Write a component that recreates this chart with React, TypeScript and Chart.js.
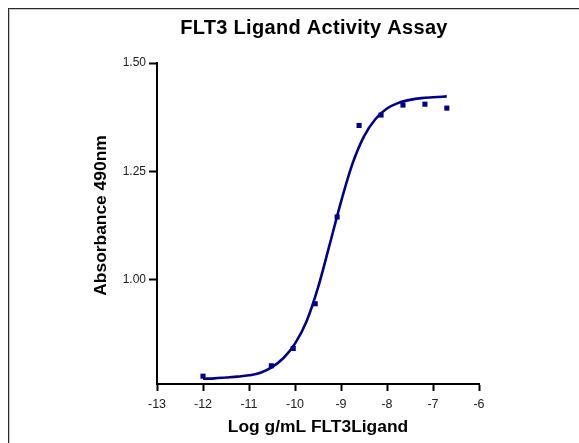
import React, { useEffect, useRef } from "react";
import { Chart, registerables } from "chart.js";

Chart.register(...registerables);

const chartTitle = "FLT3 Ligand Activity Assay";
const xAxisTitle = "Log g/mL FLT3Ligand";
const yAxisTitle = "Absorbance 490nm";

// measured points (log g/mL, absorbance)
const pointLogConc = [-12.0, -10.515, -10.038, -9.561, -9.084, -8.607, -8.13, -7.653, -7.176, -6.699];
const pointAbs = [0.778, 0.802, 0.842, 0.945, 1.145, 1.356, 1.38, 1.403, 1.405, 1.396];

// fitted curve
const curveLogConc = [-12.0, -11.75, -11.5, -11.25, -11.0, -10.75, -10.5, -10.25, -10.0, -9.75, -9.5, -9.25, -9.0, -8.75, -8.5, -8.25, -8.0, -7.75, -7.5, -7.25, -7.0, -6.7];
const curveAbs = [0.772, 0.773, 0.775, 0.777, 0.78, 0.786, 0.799, 0.82, 0.853, 0.904, 0.982, 1.08, 1.18, 1.268, 1.331, 1.371, 1.395, 1.408, 1.415, 1.419, 1.421, 1.423];

const xTickValues = [-13, -12, -11, -10, -9, -8, -7, -6];
const yTickValues = [1.0, 1.25, 1.5];

const NAVY = "#00008b";
const FONT = "Arial, 'Liberation Sans', sans-serif";

export default function App() {
  const ref = useRef<HTMLCanvasElement>(null);

  useEffect(() => {
    if (!ref.current) return;
    const textPlugin = {
      id: "customTitles",
      afterDraw(chart: any) {
        const { ctx, chartArea } = chart;
        // chart title
        ctx.save();
        ctx.font = `bold 20px ${FONT}`;
        try {
          (ctx as any).letterSpacing = "0.3px";
        } catch (e) {}
        ctx.fillStyle = "#000";
        ctx.textAlign = "center";
        ctx.textBaseline = "alphabetic";
        ctx.fillText(chartTitle, (chartArea.left + chartArea.right) / 2 - 4, 25);
        ctx.restore();
        // y axis title
        ctx.save();
        ctx.font = `bold 17.4px ${FONT}`;
        ctx.fillStyle = "#000";
        ctx.textAlign = "center";
        ctx.textBaseline = "middle";
        ctx.translate(chartArea.left - 56, (chartArea.top + chartArea.bottom) / 2 - 8);
        ctx.rotate(-Math.PI / 2);
        ctx.fillText(yAxisTitle, 0, 0);
        ctx.restore();
      },
    };

    const chart = new Chart(ref.current, {
      type: "scatter",
      data: {
        datasets: [
          {
            label: "fit",
            data: curveLogConc.map((x, i) => ({ x, y: curveAbs[i] })),
            showLine: true,
            borderColor: NAVY,
            borderWidth: 2.6,
            pointRadius: 0,
            cubicInterpolationMode: "monotone",
            fill: false,
            order: 2,
          },
          {
            label: "data",
            data: pointLogConc.map((x, i) => ({ x, y: pointAbs[i] })),
            pointStyle: "rect",
            pointRadius: 3.6,
            backgroundColor: NAVY,
            borderColor: NAVY,
            borderWidth: 0,
            order: 1,
          },
        ],
      },
      options: {
        responsive: false,
        animation: false,
        layout: { padding: { left: 0, right: 100, top: 54, bottom: 0 } },
        plugins: {
          legend: { display: false },
          tooltip: { enabled: false },
          title: { display: false },
        },
        scales: {
          x: {
            type: "linear",
            min: -13,
            max: -6,
            afterBuildTicks: (s: any) => {
              s.ticks = xTickValues.map((v) => ({ value: v }));
            },
            afterFit: (s: any) => {
              s.height = 59;
            },
            ticks: {
              autoSkip: false,
              maxRotation: 0,
              padding: 6,
              color: "#222",
              font: { family: FONT, size: 12.5 },
              callback: (v: any) => String(v),
            },
            grid: {
              display: true,
              drawOnChartArea: false,
              drawTicks: true,
              tickLength: 7,
              tickWidth: 2,
              tickColor: "#000",
            },
            border: { display: true, color: "#000", width: 2 },
            title: {
              display: true,
              text: xAxisTitle,
              color: "#000",
              font: { family: FONT, size: 17.4, weight: "bold" },
              padding: { top: 0, bottom: 5 },
            },
          },
          y: {
            type: "linear",
            min: 0.76,
            max: 1.5,
            afterBuildTicks: (s: any) => {
              s.ticks = yTickValues.map((v) => ({ value: v }));
            },
            afterFit: (s: any) => {
              s.width = 148;
            },
            ticks: {
              padding: 3,
              color: "#222",
              font: { family: FONT, size: 12 },
              callback: (v: any) => Number(v).toFixed(2),
            },
            grid: {
              display: true,
              drawOnChartArea: false,
              drawTicks: true,
              tickLength: 8,
              tickWidth: 2,
              tickColor: "#000",
            },
            border: { display: true, color: "#000", width: 2 },
          },
        },
      },
      plugins: [textPlugin],
    } as any);

    return () => chart.destroy();
  }, []);

  return (
    <div
      style={{
        position: "fixed",
        left: 8,
        top: 8,
        width: 570,
        height: 434,
        borderTop: "1px solid #2a2a2a",
        borderLeft: "1px solid #2a2a2a",
        boxShadow: "inset 1px 1px 0 #c8c8c8",
        overflow: "hidden",
        background: "#fff",
      }}
    >
      <canvas ref={ref} width={570} height={434} style={{ display: "block" }} />
    </div>
  );
}
